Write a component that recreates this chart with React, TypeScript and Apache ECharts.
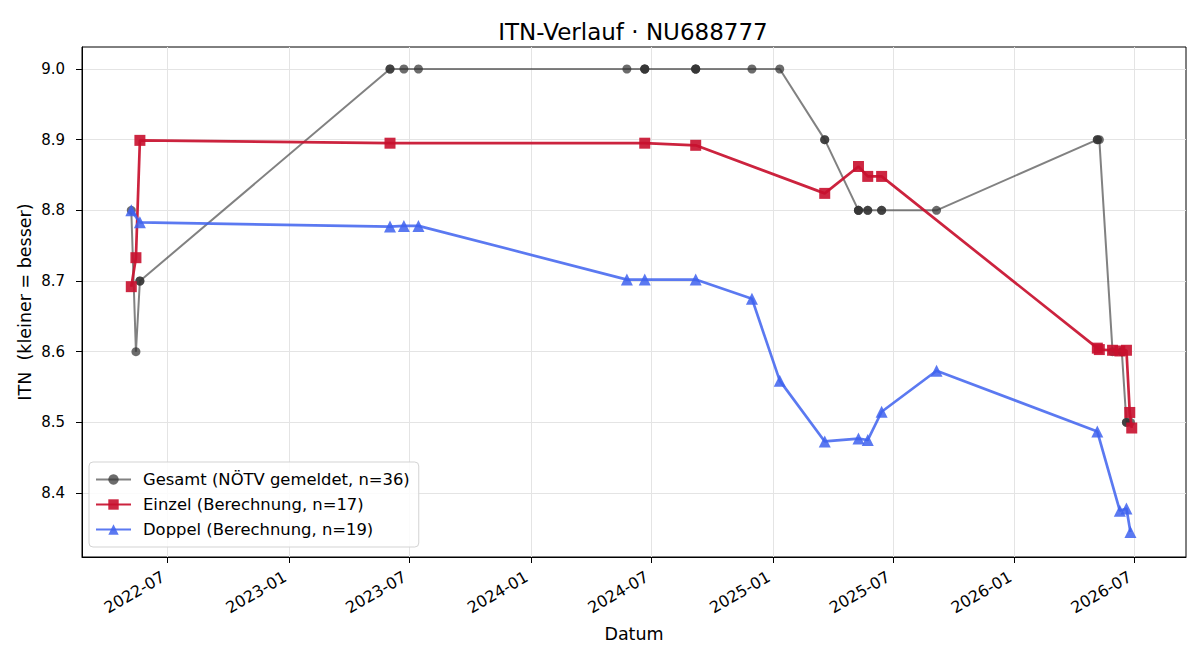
import React, { useEffect, useRef } from "react";
import * as echarts from "echarts";

const gesamtDates = [
  "2022-05-07", "2022-05-14", "2022-05-20", "2022-05-20",
  "2023-06-02", "2023-06-02", "2023-06-23", "2023-07-15",
  "2024-05-25", "2024-06-21", "2024-06-21", "2024-06-21",
  "2024-09-06", "2024-09-06", "2024-09-06", "2024-11-30",
  "2025-01-11", "2025-03-20", "2025-03-20", "2025-05-10",
  "2025-05-10", "2025-05-10", "2025-05-24", "2025-05-24",
  "2025-06-14", "2025-06-14", "2025-09-05", "2026-05-06",
  "2026-05-06", "2026-05-09", "2026-05-29", "2026-06-12",
  "2026-06-12", "2026-06-19", "2026-06-19", "2026-06-25",
];
const gesamtValues = [
  8.8, 8.6, 8.7, 8.7,
  9.0, 9.0, 9.0, 9.0,
  9.0, 9.0, 9.0, 9.0,
  9.0, 9.0, 9.0, 9.0,
  9.0, 8.9, 8.9, 8.8,
  8.8, 8.8, 8.8, 8.8,
  8.8, 8.8, 8.8, 8.9,
  8.9, 8.9, 8.6, 8.6,
  8.6, 8.5, 8.5, 8.5,
];

const einzelDates = [
  "2022-05-07", "2022-05-14", "2022-05-20", "2023-06-02",
  "2024-06-21", "2024-09-06", "2025-03-20", "2025-05-10",
  "2025-05-24", "2025-06-14", "2026-05-06", "2026-05-09",
  "2026-05-29", "2026-06-09", "2026-06-19", "2026-06-24",
  "2026-06-27",
];
const einzelValues = [
  8.692, 8.733, 8.899, 8.895,
  8.895, 8.892, 8.824, 8.862,
  8.848, 8.848, 8.605, 8.603,
  8.602, 8.601, 8.602, 8.514,
  8.492,
];

const doppelDates = [
  "2022-05-07", "2022-05-20", "2023-06-02", "2023-06-23",
  "2023-07-15", "2024-05-25", "2024-06-21", "2024-09-06",
  "2024-11-30", "2025-01-11", "2025-03-20", "2025-05-10",
  "2025-05-24", "2025-06-14", "2025-09-05", "2026-05-06",
  "2026-06-09", "2026-06-19", "2026-06-25",
];
const doppelValues = [
  8.8, 8.783, 8.777, 8.778,
  8.778, 8.702, 8.702, 8.702,
  8.675, 8.559, 8.473, 8.477,
  8.475, 8.515, 8.573, 8.487,
  8.375, 8.378, 8.345,
];

const xTickDates = [
  "2022-07-01", "2023-01-01", "2023-07-01", "2024-01-01", "2024-07-01",
  "2025-01-01", "2025-07-01", "2026-01-01", "2026-07-01",
];
const yTicks = [8.4, 8.5, 8.6, 8.7, 8.8, 8.9, 9.0];

const seriesNames = [
  "Gesamt (NÖTV gemeldet, n=36)",
  "Einzel (Berechnung, n=17)",
  "Doppel (Berechnung, n=19)",
];

const toTs = (s: string) => {
  const [y, m, d] = s.split("-").map(Number);
  return Date.UTC(y, m - 1, d);
};
const pairs = (dates: string[], vals: number[]) => dates.map((d, i) => [toTs(d), vals[i]]);

const FONT = "DejaVu Sans";

export default function App() {
  const ref = useRef<HTMLDivElement>(null);
  useEffect(() => {
    if (!ref.current) return;
    const chart = echarts.init(ref.current, null, { renderer: "svg" });
    const xTicks = xTickDates.map(toTs);
    const option: any = {
      animation: false,
      backgroundColor: "#fff",
      textStyle: { fontFamily: FONT },
      title: {
        text: "ITN-Verlauf · NU688777",
        left: 628,
        textAlign: "center",
        top: 15,
        textStyle: { fontSize: 23, fontWeight: "normal", color: "#000", fontFamily: FONT },
      },
      grid: {
        left: 82, right: 14, top: 47, bottom: 103,
        show: true, borderColor: "#000", borderWidth: 1, backgroundColor: "transparent",
      },
      legend: {
        orient: "vertical",
        left: 89,
        top: 462,
        padding: [9, 9, 9, 6],
        itemWidth: 35,
        itemHeight: 13,
        itemGap: 8,
        backgroundColor: "rgba(255,255,255,0.85)",
        borderColor: "#d3d3d3",
        borderWidth: 1,
        borderRadius: 4,
        textStyle: {
          fontSize: 16.4, color: "#000", fontFamily: FONT, lineHeight: 17,
          padding: [0, 0, 0, 7],
        },
        data: seriesNames,
      },
      xAxis: {
        type: "value",
        min: Date.UTC(2022, 1, 21, 12),
        max: Date.UTC(2026, 8, 17),
        name: "Datum",
        nameLocation: "middle",
        nameGap: 68,
        nameTextStyle: { fontSize: 17.5, color: "#000", fontFamily: FONT },
        axisLine: { show: true, onZero: false, lineStyle: { color: "#000", width: 1 } },
        axisTick: {
          show: true, length: 6, lineStyle: { color: "#000" },
          customValues: xTicks,
        },
        axisLabel: {
          rotate: 30,
          fontSize: 16,
          color: "#000",
          fontFamily: FONT,
          margin: 16,
          padding: [0, 5, 0, 0],
          customValues: xTicks,
          formatter: (v: number) => {
            const d = new Date(v);
            return d.getUTCFullYear() + "-" + String(d.getUTCMonth() + 1).padStart(2, "0");
          },
        },
        splitLine: { show: true, lineStyle: { color: "#e4e4e4", width: 1 } },
      },
      yAxis: {
        type: "value",
        min: 8.3095,
        max: 9.0311,
        name: "ITN  (kleiner = besser)",
        nameLocation: "middle",
        nameGap: 48,
        nameMoveOverlap: false,
        nameTextStyle: { fontSize: 17.5, color: "#000", fontFamily: FONT },
        axisLine: { show: true, onZero: false, lineStyle: { color: "#000", width: 1 } },
        axisTick: { show: true, length: 6, lineStyle: { color: "#000" }, customValues: yTicks },
        axisLabel: {
          fontSize: 15, color: "#000", fontFamily: FONT, margin: 17,
          customValues: yTicks,
          formatter: (v: number) => v.toFixed(1),
        },
        splitLine: { show: true, lineStyle: { color: "#e4e4e4", width: 1 } },
      },
      series: [
        {
          name: seriesNames[0],
          type: "line",
          data: pairs(gesamtDates, gesamtValues),
          symbol: "circle",
          symbolSize: 9,
          showSymbol: true,
          showAllSymbol: true,
          lineStyle: { color: "#333", width: 2, opacity: 0.62 },
          itemStyle: { color: "#333", opacity: 0.72 },
          color: "#555",
          z: 2,
        },
        {
          name: seriesNames[1],
          type: "line",
          data: pairs(einzelDates, einzelValues),
          symbol: "rect",
          symbolSize: 11,
          showSymbol: true,
          showAllSymbol: true,
          lineStyle: { color: "#c8102e", width: 2.7, opacity: 0.92 },
          itemStyle: { color: "#c8102e", opacity: 0.9 },
          color: "#c8102e",
          z: 3,
        },
        {
          name: seriesNames[2],
          type: "line",
          data: pairs(doppelDates, doppelValues),
          symbol: "triangle",
          symbolSize: 12,
          showSymbol: true,
          showAllSymbol: true,
          lineStyle: { color: "#3e62ee", width: 2.7, opacity: 0.85 },
          itemStyle: { color: "#3e62ee", opacity: 0.85 },
          color: "#3e62ee",
          z: 4,
        },
      ],
    };
    chart.setOption(option);
    return () => chart.dispose();
  }, []);
  return (
    <div
      ref={ref}
      style={{ position: "fixed", left: 0, top: 0, width: 1200, height: 660, background: "#fff" }}
    />
  );
}
